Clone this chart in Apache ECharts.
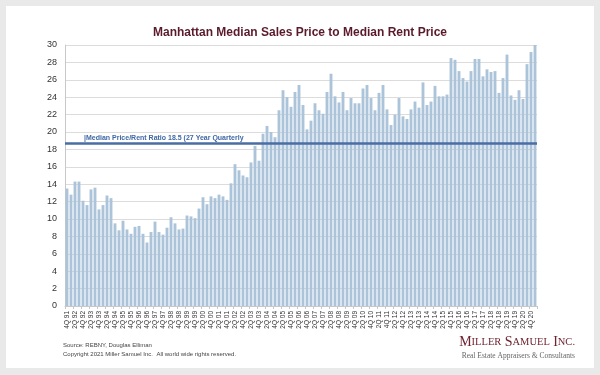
<!DOCTYPE html>
<html>
<head>
<meta charset="utf-8">
<script src="https://cdn.jsdelivr.net/npm/echarts@6/dist/echarts.min.js"></script>
<style>
html,body{margin:0;padding:0;background:#e9e9e9;}
#card{position:absolute;left:6px;top:6px;width:588px;height:362px;background:#fff;}
#chart{position:absolute;left:0;top:0;width:600px;height:375px;}
</style>
</head>
<body>
<div id="card"></div>
<div id="chart"></div>
<script>
// Quarter labels: 4Q 91 .. 1Q 21
const quarters = [];
(function(){
  let q = 4, y = 1991;
  while (!(y === 2021 && q === 2)) {
    quarters.push(q + 'Q ' + String(y).slice(2));
    q++; if (q > 4) { q = 1; y++; }
  }
})();

const ratioValues = [
  13.5, 12.8, 14.3, 14.3, 12.1, 11.6, 13.4, 13.6, 11.1, 11.6,
  12.7, 12.4, 9.5, 8.7, 9.8, 8.8, 8.3, 9.1, 9.2, 8.3,
  7.3, 8.5, 9.7, 8.5, 8.2, 9.0, 10.2, 9.5, 8.8, 8.9,
  10.4, 10.3, 10.1, 11.2, 12.5, 11.7, 12.6, 12.4, 12.8, 12.6,
  12.2, 14.1, 16.3, 15.6, 15.0, 14.8, 16.5, 18.4, 16.7, 19.8,
  20.7, 20.0, 19.4, 22.5, 24.8, 24.0, 22.9, 24.6, 25.4, 23.1,
  20.3, 21.3, 23.3, 22.5, 22.1, 24.6, 26.7, 24.1, 23.4, 24.6,
  22.5, 23.9, 23.3, 23.3, 25.0, 25.4, 23.9, 22.5, 24.5, 25.4,
  22.6, 20.8, 22.0, 23.9, 21.8, 21.5, 22.6, 23.5, 22.8, 25.7,
  23.1, 23.5, 25.3, 24.1, 24.1, 24.3, 28.5, 28.3, 27.0, 26.2,
  25.8, 27.0, 28.4, 28.4, 26.4, 27.2, 26.9, 27.0, 24.5, 26.2,
  28.9, 24.2, 23.7, 24.8, 23.8, 27.8, 29.2, 30.0
];

const longTermAverage = 18.65;
const averageLabel = '|Median Price/Rent Ratio 18.5 (27 Year Quarterly';
const yTicks = {min: 0, max: 30, interval: 2};

const chart = echarts.init(document.getElementById('chart'), null, {renderer: 'canvas'});
chart.setOption({
  backgroundColor: 'transparent',
  animation: false,
  title: {
    text: 'Manhattan Median Sales Price to Median Rent Price',
    left: 'center',
    top: 22,
    textStyle: {fontFamily: 'Liberation Sans', fontSize: 12, fontWeight: 'bold', color: '#5b1a2c'}
  },
  grid: {left: 65, right: 63, top: 45, bottom: 69},
  xAxis: {
    type: 'category',
    data: quarters,
    axisLine: {lineStyle: {color: '#c8c8c8'}},
    axisTick: {show: true, alignWithLabel: false, length: 3, lineStyle: {color: '#c8c8c8'}},
    axisLabel: {
      interval: 1, rotate: 90, fontSize: 6.5, color: '#333',
      fontFamily: 'Liberation Sans', margin: 5
    }
  },
  yAxis: {
    type: 'value',
    min: yTicks.min, max: yTicks.max, interval: yTicks.interval,
    axisLine: {show: true, lineStyle: {color: '#c8c8c8'}},
    axisTick: {show: false},
    axisLabel: {fontSize: 9, color: '#333', fontFamily: 'Liberation Sans', margin: 8},
    splitLine: {lineStyle: {color: '#dcdcdc', width: 1}}
  },
  series: [{
    type: 'bar',
    data: ratioValues,
    barCategoryGap: '28%',
    itemStyle: {color: '#abc4da'},
    markLine: {
      symbol: 'none',
      silent: true,
      data: [{yAxis: longTermAverage}],
      lineStyle: {color: '#4a6ea3', width: 2.5, type: 'solid'},
      label: {
        show: true,
        position: 'insideStartTop',
        formatter: averageLabel,
        fontSize: 7, fontWeight: 'bold', color: '#3f68a6',
        fontFamily: 'Liberation Sans',
        distance: [19, 2]
      }
    }
  }],
  graphic: [
    {type: 'text', left: 63, top: 342, style: {text: 'Source: REBNY, Douglas Elliman', fontSize: 6, fill: '#444', fontFamily: 'Liberation Sans'}},
    {type: 'text', left: 63, top: 351, style: {text: 'Copyright 2021 Miller Samuel Inc.  All world wide rights reserved.', fontSize: 6, fill: '#444', fontFamily: 'Liberation Sans'}},
    {type: 'text', right: 25, top: 335, style: {
      text: '{b|M}{s|ILLER} {b|S}{s|AMUEL} {b|I}{s|NC.}',
      rich: {
        b: {fontSize: 14, fontFamily: 'Liberation Serif', fill: '#6e2430'},
        s: {fontSize: 10.5, fontFamily: 'Liberation Serif', fill: '#6e2430'}
      }
    }},
    {type: 'text', right: 25, top: 352, style: {text: 'Real Estate Appraisers & Consultants', fontSize: 7.5, fill: '#666', fontFamily: 'Liberation Serif'}}
  ]
});
</script>
</body>
</html>
